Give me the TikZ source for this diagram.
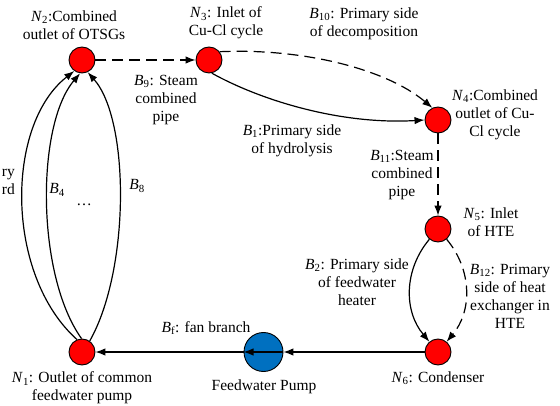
\documentclass[tikz,border=0pt]{standalone}
\usepackage{fontspec}
\setmainfont{Liberation Serif}
\usetikzlibrary{arrows.meta}
\newcommand\nsub[2]{\textit{#1}\textsubscript{#2}}
\tikzset{
  nd/.style={circle,draw=black,fill=red,line width=0.9pt,minimum size=26pt,inner sep=0pt},
  pumpnd/.style={circle,draw=black,fill={rgb,255:red,0;green,112;blue,192},line width=0.9pt,minimum size=39pt,inner sep=0pt},
  arr/.style={line width=1.2pt,-{Latex[length=10pt,width=7.5pt]}},
  darr/.style={arr,dash pattern=on 11pt off 6pt},
  lbl/.style={align=center,font=\fontsize{15.5}{18}\selectfont,inner sep=0pt}
}
\begin{document}
\begin{tikzpicture}[x=1pt,y=-1pt]
\useasboundingbox (0,0) rectangle (560,406);
% nodes
\node[nd] (N1) at (82,352) {};
\node[nd] (N2) at (82,60) {};
\node[nd] (N3) at (209,60) {};
\node[nd] (N4) at (438,120) {};
\node[nd] (N5) at (438,229) {};
\node[nd] (N6) at (438,352) {};
\node[pumpnd] (P) at (263.5,352) {};
% connectors
\draw[darr] (N2) -- (N3);
\draw[darr] (N3.38) .. controls (300,48) and (385,68) .. (N4.115);
\draw[arr] (N3.282) .. controls (260,100) and (340,125) .. (N4.west);
\draw[darr] (N4) -- (N5);
\draw[arr] (N5) to[bend right=40] (N6);
\draw[darr] (N5) to[bend left=40] (N6);
\draw[arr] (N6) -- (P.east);
\draw[arr] (P.east) -- (P.west);
\draw[arr] (P.west) -- (N1);
\draw[arr] (N1.112) .. controls (5,275) and (5,125) .. (N2.235);
\draw[arr] (N1.92) .. controls (36,275) and (36,125) .. (N2.262);
\draw[arr] (N1.55) .. controls (130,270) and (130,120) .. (N2.295);
% labels
\node[lbl] (LN2) at (74,25) {\nsub{N}{2}:Combined\\outlet of OTSGs};
\node[lbl] (LN3) at (226,23) {\nsub{N}{3}: Inlet of\\Cu-Cl cycle};
\node[lbl] (LB9) at (166,100) {\nsub{B}{9}: Steam\\combined\\pipe};
\node[lbl] (LB10) at (364,24) {\nsub{B}{10}: Primary side\\of decomposition};
\node[lbl] (LB1) at (292,141) {\nsub{B}{1}:Primary side\\of hydrolysis};
\node[lbl] (LN4) at (495,115) {\nsub{N}{4}:Combined\\outlet of Cu-\\Cl cycle};
\node[lbl] (LB11) at (402,175) {\nsub{B}{11}:Steam\\combined\\pipe};
\node[lbl] (LN5) at (491,222) {\nsub{N}{5}: Inlet\\of HTE};
\node[lbl] (LB2) at (357,282) {\nsub{B}{2}: Primary side\\of feedwater\\heater};
\node[lbl] (LB12) at (510,296) {\nsub{B}{12}: Primary\\side of heat\\exchanger in\\HTE};
\node[lbl] (LN6) at (438,378) {\nsub{N}{6}: Condenser};
\node[lbl] (LP) at (264,387) {Feedwater Pump};
\node[lbl] (LBf) at (206,328) {\nsub{B}{f}: fan branch};
\node[lbl] (LN1) at (82,388) {\nsub{N}{1}: Outlet of common\\feedwater pump};
\node[lbl] (LB4) at (57,190) {\nsub{B}{4}};
\node[lbl] (LB8) at (137,186) {\nsub{B}{8}};
\node[lbl] (Ldots) at (84,205) {\dots};
\node[lbl,align=right,anchor=east] (LB3) at (15,182) {ry\\rd};
\end{tikzpicture}
\end{document}
